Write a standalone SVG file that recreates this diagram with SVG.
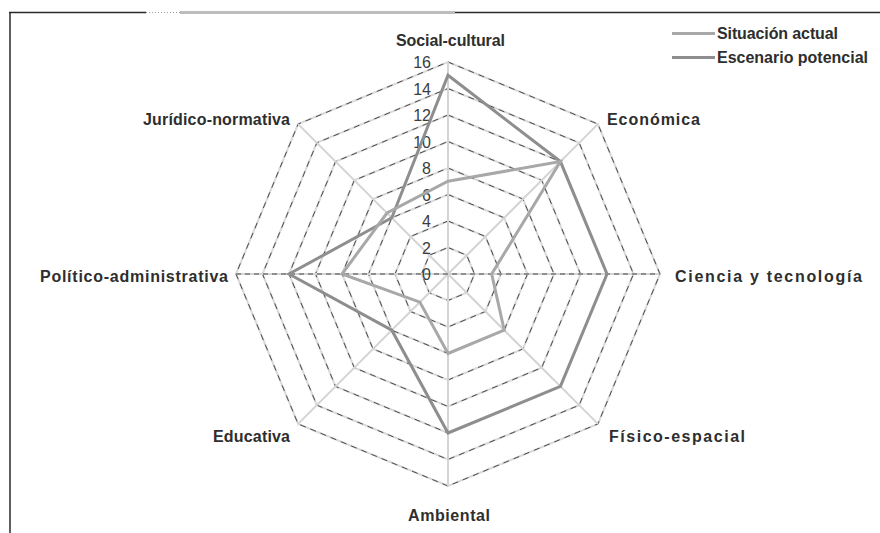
<svg xmlns="http://www.w3.org/2000/svg" width="880" height="533" viewBox="0 0 880 533">
  <style>
    .ring { fill: none; stroke: #d9d9d9; stroke-width: 2; }
    .ringdash { fill: none; stroke: #3a3a3a; stroke-width: 0.9; stroke-dasharray: 6 5; }
    .spoke { stroke: #d4d4d4; stroke-width: 2; }
    .spokedash { stroke: #3a3a3a; stroke-width: 0.9; stroke-dasharray: 5 4; }
    .tick { font-family: "Liberation Sans", Arial, sans-serif; font-size: 16px; fill: #3c3c3c; text-anchor: end; }
    .axis { font-family: "Liberation Sans", Arial, sans-serif; font-size: 16px; font-weight: bold; fill: #2e2e2e; }
    .legend { font-family: "Liberation Sans", Arial, sans-serif; font-size: 16px; font-weight: bold; fill: #2e2e2e; }
    .actual { fill: none; stroke: #a8a8a8; stroke-width: 3; stroke-linejoin: miter; }
    .potencial { fill: none; stroke: #8e8e8e; stroke-width: 3; stroke-linejoin: miter; }
    .frame { stroke: #2a2a2a; stroke-width: 1.5; fill: none; }
  </style>
  <rect width="880" height="533" fill="#ffffff"/>

  <!-- chart frame -->
  <g id="frame">
    <line class="frame" x1="9" y1="12.5" x2="146" y2="12.5"/>
    <line x1="146" y1="12.5" x2="180" y2="12.5" stroke="#9a9a9a" stroke-width="1" stroke-dasharray="1 2"/>
    <line x1="180" y1="12.5" x2="455" y2="12.5" stroke="#bdbdbd" stroke-width="3"/>
    <line class="frame" x1="455" y1="12.5" x2="880" y2="12.5"/>
    <line class="frame" x1="10" y1="12" x2="10" y2="533"/>
  </g>

  <!-- radar grid: rings every 2 units (26.5 px), centre 448,274 -->
  <g id="grid">
    <g id="rings">
      <polygon class="ring" points="448,247.5 466.74,255.26 474.5,274 466.74,292.74 448,300.5 429.26,292.74 421.5,274 429.26,255.26"/>
      <polygon class="ring" points="448,221 485.48,236.52 501,274 485.48,311.48 448,327 410.52,311.48 395,274 410.52,236.52"/>
      <polygon class="ring" points="448,194.5 504.21,217.79 527.5,274 504.21,330.21 448,353.5 391.79,330.21 368.5,274 391.79,217.79"/>
      <polygon class="ring" points="448,168 522.95,199.05 554,274 522.95,348.95 448,380 373.05,348.95 342,274 373.05,199.05"/>
      <polygon class="ring" points="448,141.5 541.69,180.31 580.5,274 541.69,367.69 448,406.5 354.31,367.69 315.5,274 354.31,180.31"/>
      <polygon class="ring" points="448,115 560.43,161.57 607,274 560.43,386.43 448,433 335.57,386.43 289,274 335.57,161.57"/>
      <polygon class="ring" points="448,88.5 579.17,142.83 633.5,274 579.17,405.17 448,459.5 316.83,405.17 262.5,274 316.83,142.83"/>
      <polygon class="ring" points="448,62 597.91,124.09 660,274 597.91,423.91 448,486 298.09,423.91 236,274 298.09,124.09"/>
    </g>
    <g id="ring-dashes">
      <polygon class="ringdash" points="448,247.5 466.74,255.26 474.5,274 466.74,292.74 448,300.5 429.26,292.74 421.5,274 429.26,255.26"/>
      <polygon class="ringdash" points="448,221 485.48,236.52 501,274 485.48,311.48 448,327 410.52,311.48 395,274 410.52,236.52"/>
      <polygon class="ringdash" points="448,194.5 504.21,217.79 527.5,274 504.21,330.21 448,353.5 391.79,330.21 368.5,274 391.79,217.79"/>
      <polygon class="ringdash" points="448,168 522.95,199.05 554,274 522.95,348.95 448,380 373.05,348.95 342,274 373.05,199.05"/>
      <polygon class="ringdash" points="448,141.5 541.69,180.31 580.5,274 541.69,367.69 448,406.5 354.31,367.69 315.5,274 354.31,180.31"/>
      <polygon class="ringdash" points="448,115 560.43,161.57 607,274 560.43,386.43 448,433 335.57,386.43 289,274 335.57,161.57"/>
      <polygon class="ringdash" points="448,88.5 579.17,142.83 633.5,274 579.17,405.17 448,459.5 316.83,405.17 262.5,274 316.83,142.83"/>
      <polygon class="ringdash" points="448,62 597.91,124.09 660,274 597.91,423.91 448,486 298.09,423.91 236,274 298.09,124.09"/>
    </g>
    <g id="spokes">
      <line class="spoke" x1="448" y1="274" x2="448" y2="62"/>
      <line class="spoke" x1="448" y1="274" x2="597.91" y2="124.09"/>
      <line class="spoke" x1="448" y1="274" x2="660" y2="274"/>
      <line class="spoke" x1="448" y1="274" x2="597.91" y2="423.91"/>
      <line class="spoke" x1="448" y1="274" x2="448" y2="486"/>
      <line class="spoke" x1="448" y1="274" x2="298.09" y2="423.91"/>
      <line class="spoke" x1="448" y1="274" x2="236" y2="274"/>
      <line class="spoke" x1="448" y1="274" x2="298.09" y2="124.09"/>
      <line class="spokedash" x1="236" y1="274" x2="660" y2="274"/>
    </g>
  </g>

  <!-- value scale -->
  <g id="scale">
    <text class="tick" x="431" y="280">0</text>
    <text class="tick" x="431" y="253.5">2</text>
    <text class="tick" x="431" y="227">4</text>
    <text class="tick" x="431" y="200.5">6</text>
    <text class="tick" x="431" y="174">8</text>
    <text class="tick" x="431" y="147.5">10</text>
    <text class="tick" x="431" y="121">12</text>
    <text class="tick" x="431" y="94.5">14</text>
    <text class="tick" x="431" y="68">16</text>
  </g>

  <!-- data series -->
  <g id="connectors">
    <polygon id="series-potencial" class="potencial" points="448,75.25 560.43,161.57 607,274 560.43,386.43 448,433 391.79,330.21 289,274 391.79,217.79"/>
    <polygon id="series-actual" class="actual" points="448,181.25 560.43,161.57 491.7,274 504.21,330.21 448,353.5 419.89,302.11 342,274 387,213"/>
  </g>

  <!-- axis labels -->
  <g id="axis-social"><text class="axis" x="396" y="46" textLength="109">Social-cultural</text></g>
  <g id="axis-economica"><text class="axis" x="607" y="125" textLength="93">Económica</text></g>
  <g id="axis-ciencia"><text class="axis" x="675" y="282" textLength="187">Ciencia y tecnología</text></g>
  <g id="axis-fisico"><text class="axis" x="609" y="442" textLength="136">Físico-espacial</text></g>
  <g id="axis-ambiental"><text class="axis" x="408" y="521" textLength="82">Ambiental</text></g>
  <g id="axis-educativa"><text class="axis" x="213" y="442" textLength="77">Educativa</text></g>
  <g id="axis-politico"><text class="axis" x="40" y="282" textLength="188">Político-administrativa</text></g>
  <g id="axis-juridico"><text class="axis" x="143" y="125" textLength="147">Jurídico-normativa</text></g>

  <!-- legend -->
  <g id="legend">
    <line x1="672" y1="33.5" x2="715" y2="33.5" stroke="#a8a8a8" stroke-width="3"/>
    <text class="legend" x="717" y="39" textLength="121">Situación actual</text>
    <line x1="672" y1="57.5" x2="715" y2="57.5" stroke="#8e8e8e" stroke-width="3"/>
    <text class="legend" x="717" y="63" textLength="151">Escenario potencial</text>
  </g>
</svg>
